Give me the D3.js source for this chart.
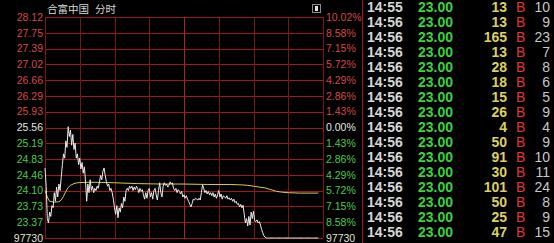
<!DOCTYPE html>
<html><head><meta charset="utf-8">
<script src="https://cdn.jsdelivr.net/npm/d3@7/dist/d3.min.js"></script>
<style>html,body{margin:0;padding:0;background:#000;overflow:hidden}svg{display:block}</style>
</head><body>
<svg id="c" width="554" height="243"></svg>
<script>
// ---------- data ----------
const titleName = "合富中国";
const titleMode = "分时";
const gridPrices = [28.12,27.75,27.39,27.02,26.66,26.29,25.93,25.56,25.19,24.83,24.46,24.10,23.73,23.37,23.00];
const leftLabels = ["28.12","27.75","27.39","27.02","26.66","26.29","25.93","25.56","25.19","24.83","24.46","24.10","23.73","23.37","97730"];
const rightLabels = ["10.02%","8.58%","7.15%","5.72%","4.29%","2.86%","1.43%","0.00%","1.43%","2.86%","4.29%","5.72%","7.15%","8.58%","97730"];
const labelSigns = [1,1,1,1,1,1,1,0,-1,-1,-1,-1,-1,-1,2];
const timeGridMinutes = [0,30,60,90,120,150,180,210,240];
// minute-by-minute last price (index = minutes since 9:30)
const prices = [
24.62,24.20,23.45,23.35,23.60,23.50,23.75,23.70,24.05,23.85,
24.18,23.95,24.25,24.10,24.40,24.70,24.95,24.85,25.25,25.10,
25.58,25.35,25.50,25.15,25.40,25.05,25.20,24.85,24.95,24.70,
24.85,24.60,24.75,24.50,24.65,24.30,23.85,24.25,24.05,24.35,
24.10,24.20,24.05,24.15,24.10,24.20,24.15,24.30,24.45,24.35,
24.55,24.62,24.45,24.30,24.20,24.25,24.10,24.15,24.05,23.90,
23.70,23.55,23.75,23.47,23.70,23.60,23.80,23.70,23.95,23.85,
24.10,24.15,24.10,24.20,24.15,24.20,24.10,24.18,24.12,24.20,
24.15,24.05,24.15,24.08,24.12,24.00,23.90,24.05,23.92,24.10,
24.15,23.95,24.05,23.90,24.10,24.15,24.00,23.88,24.10,24.28,
24.05,23.95,24.20,24.28,24.22,24.25,24.18,24.22,24.30,24.25,
24.28,24.15,24.10,24.15,24.05,24.12,24.08,24.02,24.08,23.95,
24.00,23.92,23.98,23.90,23.85,23.78,23.72,23.80,23.90,23.88,
23.92,23.90,23.88,23.92,23.88,24.05,24.23,24.15,24.05,24.10,
24.02,24.08,24.00,24.05,23.98,24.05,23.95,24.02,23.92,24.00,
24.10,23.95,24.02,23.90,23.98,23.95,23.92,23.98,23.90,23.93,
23.88,23.92,23.85,23.90,23.82,23.85,23.78,23.80,23.72,23.78,
23.70,23.76,23.55,23.35,23.45,23.28,23.50,23.30,23.60,23.45,
23.62,23.40,23.38,23.42,23.35,23.38,23.30,23.20,23.12,23.05,
23.02,23.00,23.00,23.00,23.00,23.00,23.00,23.00,23.00,23.00,
23.00,23.00,23.00,23.00,23.00,23.00,23.00,23.00,23.00,23.00,
23.00,23.00,23.00,23.00,23.00,23.00,23.00,23.00,23.00,23.00,
23.00,23.00,23.00,23.00,23.00,23.00,23.00,23.00,23.00,23.00,
23.00,23.00,23.00,23.00,23.00,23.00,23.00
];
// average price line, sampled
const avgMinutes = [0,2,4,8,12,14,16,18,20,22,25,28,35,45,60,80,100,120,140,160,170,175,180,185,190,195,200,205,210,220,236];
const avgValues  = [24.10,23.95,23.85,23.83,23.84,23.88,23.97,24.08,24.17,24.22,24.26,24.28,24.29,24.29,24.28,24.26,24.25,24.25,24.24,24.24,24.23,24.22,24.20,24.18,24.16,24.12,24.08,24.06,24.05,24.04,24.04];
// trade ticks table
const tradeTimes  = ["14:55","14:56","14:56","14:56","14:56","14:56","14:56","14:56","14:56","14:56","14:56","14:56","14:56","14:56","14:56","14:56"];
const tradePrices = ["23.00","23.00","23.00","23.00","23.00","23.00","23.00","23.00","23.00","23.00","23.00","23.00","23.00","23.00","23.00","23.00"];
const tradeVolumes = [13,13,165,13,28,18,15,26,4,50,91,30,101,50,25,47];
const tradeSides  = ["B","B","B","B","B","B","B","B","B","B","B","B","B","B","B","B"];
const tradeCounts = [10,9,23,7,8,6,5,9,4,9,10,11,24,8,9,15];

// ---------- drawing ----------
const svg = d3.select("#c");
svg.append("rect").attr("width",554).attr("height",243).attr("fill","#000");

const x = d3.scaleLinear().domain([0,240]).range([45,323]);
const y = d3.scaleLinear().domain([23.00,28.12]).range([238,17]);
const gridColor = "#9c1a20";
const chartFont = "'Liberation Sans', Arial, sans-serif";
const colorFor = s => s===1 ? "#d44848" : s===-1 ? "#4ccc4c" : s===0 ? "#e6e6e6" : "#e2e2d2";

// horizontal grid
svg.append("g").selectAll("line").data(gridPrices).join("line")
  .attr("x1",x(0)).attr("x2",x(240))
  .attr("y1",d=>Math.round(y(d))+0.5).attr("y2",d=>Math.round(y(d))+0.5)
  .attr("stroke",gridColor).attr("stroke-width",1);
// vertical grid
svg.append("g").selectAll("line").data(timeGridMinutes).join("line")
  .attr("x1",d=>Math.round(x(d))+0.5).attr("x2",d=>Math.round(x(d))+0.5)
  .attr("y1",y(28.12)).attr("y2",y(23.00))
  .attr("stroke",d=> d===120 ? "#b02028" : "#7c1418").attr("stroke-width",1);

// left labels
svg.append("g").selectAll("text").data(gridPrices).join("text")
  .attr("x",43).attr("y",d=>y(d)).attr("dy","0.36em")
  .attr("text-anchor","end").attr("font-family",chartFont).attr("font-size","10.5px")
  .attr("fill",(d,i)=>colorFor(labelSigns[i])).text((d,i)=>leftLabels[i]);
// right labels
svg.append("g").selectAll("text").data(gridPrices).join("text")
  .attr("x",326).attr("y",d=>y(d)).attr("dy","0.36em")
  .attr("text-anchor","start").attr("font-family",chartFont).attr("font-size","10.5px")
  .attr("fill",(d,i)=>colorFor(labelSigns[i])).text((d,i)=>rightLabels[i]);

// title
svg.append("text").attr("x",47).attr("y",13).attr("font-family","'Noto Sans CJK SC', sans-serif")
  .attr("font-size","10.5px").attr("fill","#d8d8d8").text(titleName);
svg.append("text").attr("x",95).attr("y",13).attr("font-family","'Noto Sans CJK SC', sans-serif")
  .attr("font-size","10.5px").attr("fill","#d8d8d8").text(titleMode);
// small icon
svg.append("rect").attr("x",312.5).attr("y",4.5).attr("width",8).attr("height",8)
  .attr("fill","none").attr("stroke","#8a8a8a");
svg.append("rect").attr("x",315).attr("y",6).attr("width",3).attr("height",5).attr("fill","#e0e0e0");

// average line
svg.append("path").datum(avgMinutes.map((m,i)=>[m,avgValues[i]]))
  .attr("fill","none").attr("stroke","#d0d04c").attr("stroke-width",1)
  .attr("d",d3.line().x(d=>x(d[0])).y(d=>y(d[1])));
// price line
svg.append("path").datum(prices)
  .attr("fill","none").attr("stroke","#ececec").attr("stroke-width",1)
  .attr("d",d3.line().x((d,i)=>x(i)).y(d=>y(d)));

// separator
svg.append("line").attr("x1",362.5).attr("x2",362.5).attr("y1",0).attr("y2",243)
  .attr("stroke","#a01820").attr("stroke-width",1);

// table
const tFont = "'Liberation Sans Narrow', 'Liberation Sans', Arial, sans-serif";
const rowY = i => 7 + 15*i;
const tg = svg.append("g").attr("font-family",tFont).attr("font-size","14px").attr("font-weight","bold");
tg.selectAll("text.t").data(tradeTimes).join("text").attr("class","t")
  .attr("x",367).attr("y",(d,i)=>rowY(i)).attr("dy","0.36em").attr("fill","#d6d6d6").text(d=>d);
tg.selectAll("text.p").data(tradePrices).join("text").attr("class","p")
  .attr("x",453).attr("text-anchor","end").attr("y",(d,i)=>rowY(i)).attr("dy","0.36em").attr("fill","#3cd23c").text(d=>d);
tg.selectAll("text.v").data(tradeVolumes).join("text").attr("class","v")
  .attr("x",507).attr("text-anchor","end").attr("y",(d,i)=>rowY(i)).attr("dy","0.36em").attr("fill","#dcd060").text(d=>d);
tg.selectAll("text.s").data(tradeSides).join("text").attr("class","s")
  .attr("x",516).attr("y",(d,i)=>rowY(i)).attr("dy","0.36em").attr("fill","#e03434").attr("font-weight","normal").text(d=>d);
tg.selectAll("text.n").data(tradeCounts).join("text").attr("class","n")
  .attr("x",550).attr("text-anchor","end").attr("y",(d,i)=>rowY(i)).attr("dy","0.36em").attr("fill","#c8c8c8").attr("font-weight","normal").text(d=>d);
</script>
</body></html>
